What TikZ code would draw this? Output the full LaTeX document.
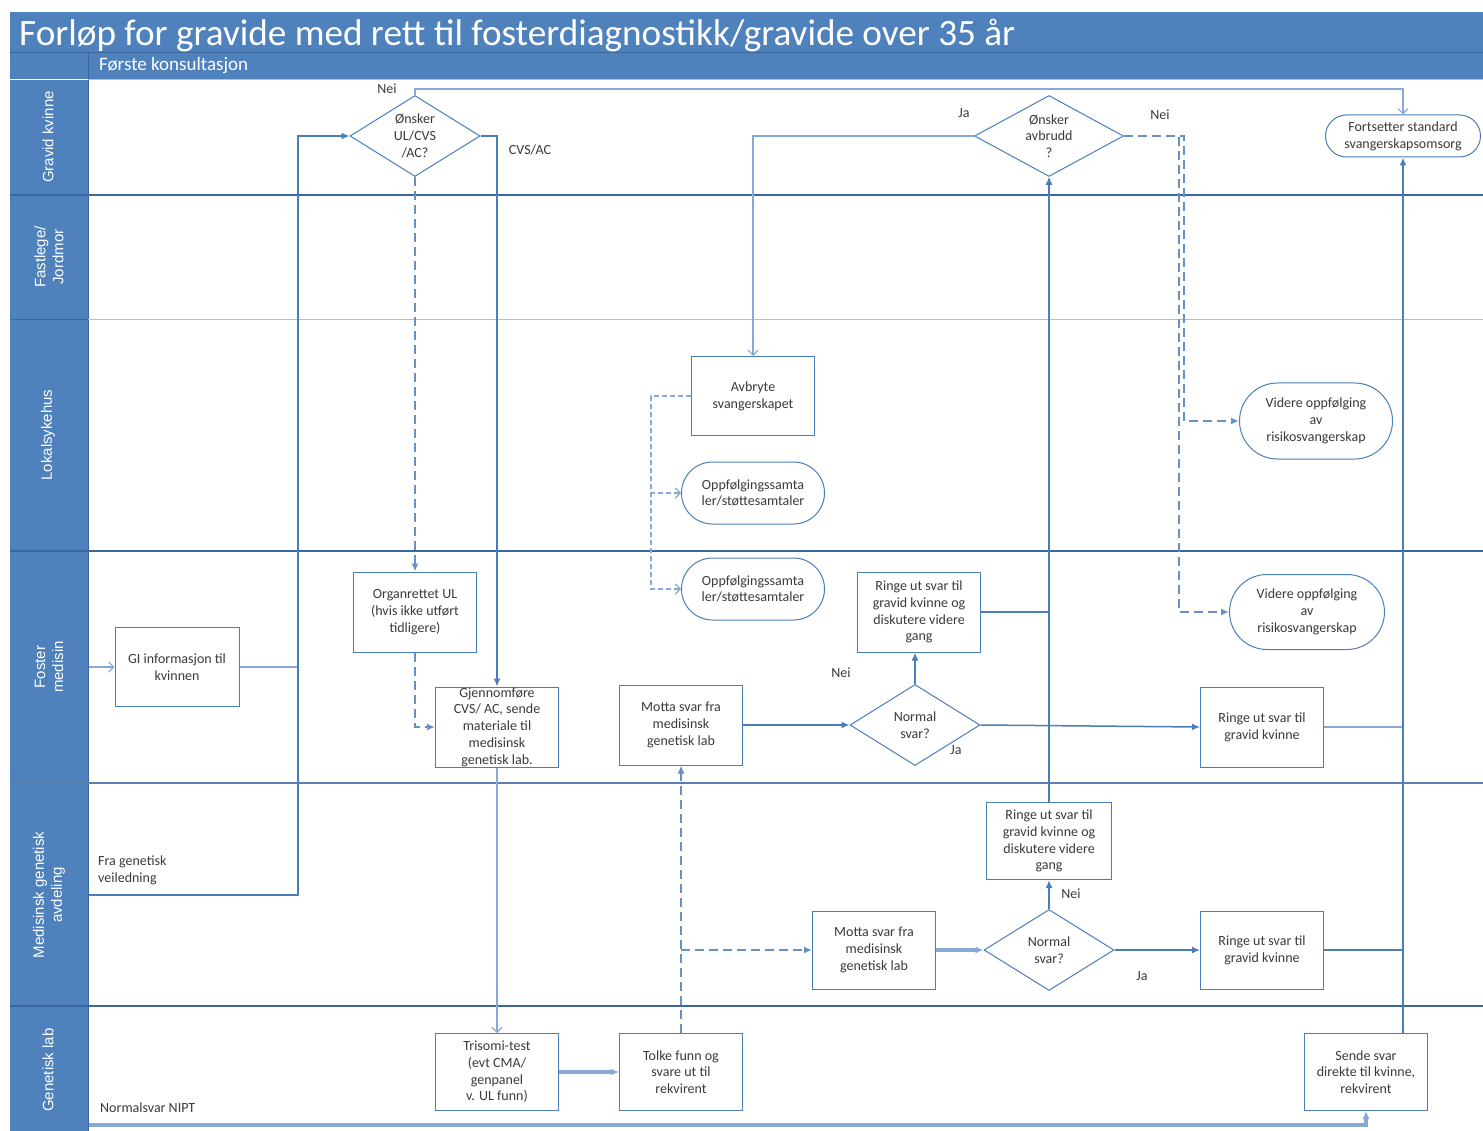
\documentclass[tikz,border=0pt]{standalone}
\usepackage{fontspec}
\setmainfont{Carlito}
\newfontfamily\lanefont{Liberation Sans}
\usetikzlibrary{shapes.geometric,arrows.meta}
\definecolor{hdr}{HTML}{4F81BD}
\definecolor{hdrdark}{HTML}{3C679C}
\definecolor{ln}{HTML}{4A7EBB}
\definecolor{lnlight}{HTML}{86A9D6}
\definecolor{sep}{HTML}{3B689E}
\definecolor{seplight}{HTML}{A7C0E0}
\definecolor{txt}{HTML}{3A3A3A}
\newcommand\nfont{\fontsize{14}{16.7}\selectfont}
\newcommand\lfont{\fontsize{14}{17}\selectfont}
\begin{document}
\begin{tikzpicture}[x=1pt,y=-1pt,
  fa/.style={-{Latex[length=8pt,width=7pt]}},
  oa/.style={-{Straight Barb[length=5pt,width=10pt]}},
  thinln/.style={draw=lnlight,line width=1.1pt},
  medln/.style={draw=ln,line width=1.5pt},
  thickln/.style={draw=ln,line width=2pt},
  dblln/.style={draw=lnlight,line width=3.5pt},
  dashln/.style={draw=ln!85!white,line width=2pt,dash pattern=on 9pt off 5pt},
  thindash/.style={draw=lnlight,line width=1.1pt,dash pattern=on 5pt off 3pt},
  box/.style={draw=ln,line width=1pt,fill=white,text=txt,minimum width=123pt,minimum height=80pt,inner sep=0pt,align=center,font=\nfont},
  stad/.style={draw=ln,line width=1pt,fill=white,text=txt,inner sep=0pt,align=center,font=\nfont},
  dia/.style={draw=ln,line width=1pt,fill=white,text=txt,shape=diamond,aspect=1.6,minimum width=130pt,minimum height=81pt,inner sep=0pt,align=center,font=\nfont},
  lbl/.style={text=txt,inner sep=0pt,font=\lfont},
  lane/.style={text=white,inner sep=0pt,align=center,rotate=90,font=\lanefont\fontsize{15}{18}\selectfont}
]
\useasboundingbox (0,0) rectangle (1483,1131);
\fill[white] (0,0) rectangle (1483,1131);
% header bars
\fill[hdr] (10,12) rectangle (1483,52);
\fill[hdr] (10,53) rectangle (1483,79);
\draw[hdrdark,line width=1pt] (10,52.5) -- (1483,52.5);
\draw[hdrdark,line width=0.8pt] (88,53) -- (88,79);
\fill[hdr] (10,80) rectangle (88,1131);
\draw[seplight,line width=1pt] (88,80) -- (1483,80);
\draw[hdrdark,line width=1pt] (88,80) -- (88,1131);
\node[anchor=west,text=white,inner sep=0pt,font=\fontsize{37.2}{40}\selectfont] (title) at (19,36) {Forløp for gravide med rett til fosterdiagnostikk/gravide over 35 år};
\node[anchor=west,text=white,inner sep=0pt,font=\fontsize{19}{21}\selectfont] (sub) at (99,66) {Første konsultasjon};
% lane separators
\draw[sep,line width=1.5pt] (10,195) -- (1483,195);
\draw[seplight,line width=1pt] (88,320) -- (1483,320);
\draw[hdrdark,line width=1pt] (10,320) -- (88,320);
\draw[sep,line width=1.5pt] (10,551) -- (1483,551);
\draw[sep!85!white,line width=1.5pt] (10,783) -- (1483,783);
\draw[sep,line width=2.5pt] (10,1006) -- (1483,1006);
% lane labels
\node[lane] (l1) at (48,137) {Gravid kvinne};
\node[lane] (l2) at (49,257) {Fastlege/\\Jordmor};
\node[lane] (l3) at (48,435) {Lokalsykehus};
\node[lane] (l4) at (49,667) {Foster\\medisin};
\node[lane] (l5) at (49,895) {Medisinsk genetisk\\avdeling};
\node[lane] (l6) at (48,1070) {Genetisk lab};
% nodes
\node[dia] (d1) at (415,136) {Ønsker\\UL/CVS\\/AC?};
\node[dia,minimum width=149pt] (d2) at (1049,136) {Ønsker\\avbrudd\\?};
\node[stad,minimum width=155pt,minimum height=42pt,rounded corners=21pt] (fort) at (1403,136) {Fortsetter standard\\svangerskapsomsorg};
\node[box,minimum width=123pt,minimum height=79pt] (avb) at (753,396) {Avbryte\\svangerskapet};
\node[stad,minimum width=143pt,minimum height=62pt,rounded corners=31pt] (opp1) at (753,493) {Oppfølgingssamta\\ler/støttesamtaler};
\node[stad,minimum width=143pt,minimum height=62pt,rounded corners=31pt] (opp2) at (753,589) {Oppfølgingssamta\\ler/støttesamtaler};
\node[stad,minimum width=153pt,minimum height=76pt,rounded corners=38pt] (vid1) at (1316,421) {Videre oppfølging\\av\\risikosvangerskap};
\node[stad,minimum width=155pt,minimum height=75pt,rounded corners=37.5pt] (vid2) at (1307,612) {Videre oppfølging\\av\\risikosvangerskap};
\node[box,minimum width=124pt,minimum height=79pt] (gi) at (177,667) {GI informasjon til\\kvinnen};
\node[box] (org) at (415,612) {Organrettet UL\\(hvis ikke utført\\tidligere)};
\node[box] (gjen) at (497,727) {Gjennomføre\\CVS/ AC, sende\\materiale til\\medisinsk\\genetisk lab.};
\node[box] (mot1) at (681,725) {Motta svar fra\\medisinsk\\genetisk lab};
\node[dia] (n1) at (915,725) {Normal\\svar?};
\node[box] (r1) at (919,612) {Ringe ut svar til\\gravid kvinne og\\diskutere videre\\gang};
\node[box] (r2) at (1262,727) {Ringe ut svar til\\gravid kvinne};
\node[box,minimum width=125pt,minimum height=77pt] (r3) at (1049,841) {Ringe ut svar til\\gravid kvinne og\\diskutere videre\\gang};
\node[box,minimum height=78pt] (mot2) at (874,950) {Motta svar fra\\medisinsk\\genetisk lab};
\node[dia] (n2) at (1049,950) {Normal\\svar?};
\node[box,minimum height=78pt] (r4) at (1262,950) {Ringe ut svar til\\gravid kvinne};
\node[box,minimum height=77pt] (tri) at (497,1072) {Trisomi-test\\(evt CMA/\\genpanel\\v. UL funn)};
\node[box,minimum height=77pt] (tol) at (681,1072) {Tolke funn og\\svare ut til\\rekvirent};
\node[box,minimum height=77pt] (sende) at (1366,1072) {Sende svar\\direkte til kvinne,\\rekvirent};
% labels
\node[lbl] (t1) at (387,89) {Nei};
\node[lbl] (t2) at (530,150) {CVS/AC};
\node[lbl] (t3) at (964,113) {Ja};
\node[lbl] (t4) at (1160,115) {Nei};
\node[lbl] (t5) at (841,673) {Nei};
\node[lbl] (t6) at (956,750) {Ja};
\node[lbl] (t7) at (1071,894) {Nei};
\node[lbl] (t8) at (1142,976) {Ja};
\node[lbl,anchor=west,align=left] (t9) at (98,870) {Fra genetisk\\veiledning};
\node[lbl,anchor=west] (t10) at (100,1108) {Normalsvar NIPT};
% helper coordinates
\coordinate (ytop) at (0,89);
\coordinate (vx) at (298,0);
\coordinate (xv1) at (1184,0);
\coordinate (xv2) at (1179,0);
\coordinate (xo) at (651,0);
\coordinate (vr) at (1403,0);
\coordinate (ginL) at (89,667);
\coordinate (fra) at (89,895);
\coordinate (nipt) at (89,1125);
% connectors
\draw[thinln,oa] (d1.north) -- (d1.north |- ytop) -| (fort.north);
\draw[thinln,oa] (d2.west) -| (avb.north);
\draw[dashln,fa] (d2.east) -- (d2.east -| xv1) |- (vid1.west);
\draw[dashln,fa] (d2.east) -- (d2.east -| xv2) |- (vid2.west);
\draw[thindash,oa] (avb.west) -- (avb.west -| xo) |- (opp1.west);
\draw[thindash,oa] (avb.west -| xo) |- (opp2.west);
\draw[thinln,oa] (ginL) -- (gi.west);
\draw[thinln] (gi.east) -- (gi.east -| vx);
\draw[thickln,fa] (fra) -- (fra -| vx) |- (d1.west);
\draw[thickln,fa] (d1.east) -| (gjen.north);
\draw[dashln,fa] (d1.south) -- (org.north);
\draw[dashln,fa] (org.south) |- (gjen.west);
\draw[thinln,oa] (gjen.south) -- (tri.north);
\draw[dblln,fa] (tri.east) -- (tol.west);
\draw[dashln,fa] (tol.north) -- (mot1.south);
\draw[dashln,fa] (tol.north |- mot2.west) -- (mot2.west);
\draw[thickln,fa] (mot1.east) -- (n1.west);
\draw[thickln,fa] (n1.north) -- (n1.north |- r1.south);
\draw[thickln,fa] (r1.east) -| (d2.south);
\draw[thickln,fa] (r3.north) -- (d2.south);
\draw[medln,fa] (n1.east) -- (r2.west);
\draw[thinln] (r2.east) -- (r2.east -| vr);
\draw[thickln,fa] (vr |- sende.north) -- (fort.south);
\draw[dblln,fa] (mot2.east) -- (n2.west);
\draw[thickln,fa] (n2.north) -- (r3.south);
\draw[medln,fa] (n2.east) -- (r4.west);
\draw[thickln] (r4.east) -- (r4.east -| vr);
\draw[dblln,fa] (nipt) -| (sende.south);
\end{tikzpicture}
\end{document}
